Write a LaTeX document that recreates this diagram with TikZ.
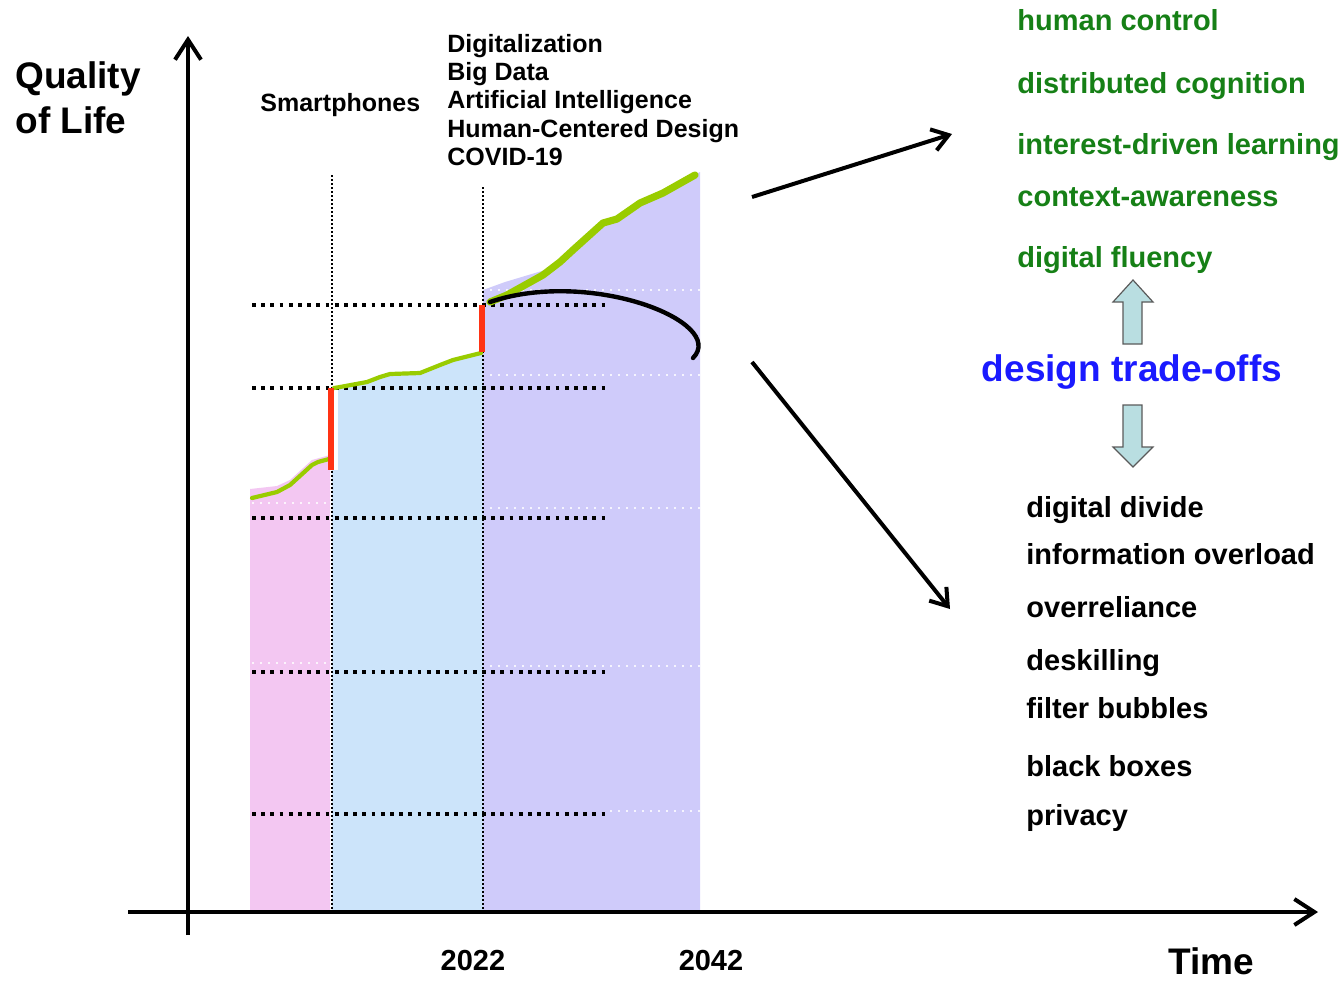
\documentclass[tikz,border=0pt]{standalone}
\usepackage{fontspec}
\setmainfont{Liberation Sans}
\usetikzlibrary{arrows.meta}
\definecolor{pinkfill}{RGB}{243,199,242}
\definecolor{bluefill}{RGB}{204,228,250}
\definecolor{purplefill}{RGB}{207,203,250}
\definecolor{lime}{RGB}{153,204,0}
\definecolor{redline}{RGB}{255,51,20}
\definecolor{dgreen}{RGB}{22,128,22}
\definecolor{dblue}{RGB}{26,26,255}
\definecolor{arrowfill}{RGB}{185,222,225}
\definecolor{arrowdraw}{RGB}{90,90,90}
\begin{document}
\begin{tikzpicture}[x=0.5pt,y=-0.5pt,
  bigtxt/.style={inner sep=0pt, anchor=base west, font=\bfseries\fontsize{18.5}{22}\selectfont},
  midtxt/.style={inner sep=0pt, anchor=base west, font=\bfseries\fontsize{14.5}{17}\selectfont},
  smalltxt/.style={inner sep=0pt, anchor=base west, font=\bfseries\fontsize{12.5}{15}\selectfont},
  goodtxt/.style={midtxt, text=dgreen},
  badtxt/.style={midtxt, text=black},
  hdot/.style={line width=1.9pt, dash pattern=on 1.9pt off 2.7pt},
  vdot/.style={line width=1.3pt, dash pattern=on 1.1pt off 0.9pt},
  wdot/.style={white, opacity=0.8, line width=1pt, dash pattern=on 1pt off 3pt},
  axis/.style={line width=2pt, -{Straight Barb[length=10pt,width=13pt]}},
  diag/.style={line width=2pt, -{Straight Barb[length=8pt,width=11pt]}},
  blockarrow/.style={fill=arrowfill, draw=arrowdraw, line width=0.6pt, line join=miter},
  greenthin/.style={lime, line width=2.1pt, line join=round, line cap=round},
  greenthick/.style={lime, line width=3.6pt, line join=round, line cap=round},
  redbar/.style={redline, line width=2.6pt}
]
\useasboundingbox (0,0) rectangle (1344,981);

% ---- coloured areas ----
\fill[pinkfill] (250,912) -- (250,489) -- (277,486) -- (290,480) -- (312,460) -- (330,455) -- (330,912) -- cycle;
\fill[bluefill] (332,912) -- (332,470) -- (338,470) -- (338,386) -- (367,381) -- (380,376) -- (390,373) -- (420,372) -- (440,364) -- (453,359) -- (483,352) -- (483,912) -- cycle;
\fill[purplefill] (483,912) -- (483,290) -- (505,282) -- (545,270) -- (575,248) -- (605,222) -- (640,202) -- (665,190) -- (700,172) -- (700,912) -- cycle;

% ---- faint white dotted lines ----
\draw[wdot] (252,503) -- (330,503);
\draw[wdot] (252,663) -- (330,663);
\draw[wdot] (490,290) -- (700,290);
\draw[wdot] (490,375) -- (700,375);
\draw[wdot] (490,508) -- (700,508);
\draw[wdot] (490,666) -- (700,666);
\draw[wdot] (610,811) -- (700,811);

% ---- black dotted grid ----
\draw[vdot] (332,175) -- (332,912);
\draw[vdot] (483,187) -- (483,912);
\foreach \yy in {305,388,518,672,814}
  \draw[hdot] (252,\yy) -- (610,\yy);

% ---- quality curve ----
\draw[greenthin] (252,498) -- (277,492) -- (290,485) -- (312,465) -- (318,462) -- (329,459);
\draw[greenthin] (334,388) -- (340,387) -- (367,382) -- (380,377) -- (390,374) -- (420,373) -- (440,365) -- (453,360) -- (481,353);
\draw[greenthick] (490,302) -- (507,295) -- (543,275) -- (560,262) -- (573,250) -- (603,223) -- (617,219) -- (640,203) -- (663,193) -- (695,175);
\draw[redbar] (331,388) -- (331,470);
\draw[redbar] (482,305) -- (482,352);

% ---- black arc ----
\draw[line width=2.2pt, line cap=round] (490,302) .. controls (590,268) and (728,322) .. (693,358);

% ---- axes ----
\coordinate (yb) at (188,935);
\coordinate (yt) at (188,36);
\coordinate (xl) at (128,912);
\coordinate (xr) at (1318,912);
\draw[axis] (yb) -- (yt);
\draw[axis] (xl) -- (xr);

% ---- axis labels ----
\node[bigtxt] (q1) at (15,88) {Quality};
\node[bigtxt] (q2) at (15,133) {of Life};
\node[midtxt, anchor=base] (y2022) at (473,970) {2022};
\node[midtxt, anchor=base] (y2042) at (711,970) {2042};
\node[bigtxt] (time) at (1168,974) {Time};

% ---- event labels ----
\node[smalltxt] (smart) at (260,111) {Smartphones};
\node[smalltxt] (e1) at (447,52) {Digitalization};
\node[smalltxt] (e2) at (447,80) {Big Data};
\node[smalltxt] (e3) at (447,108) {Artificial Intelligence};
\node[smalltxt] (e4) at (447,137) {Human-Centered Design};
\node[smalltxt] (e5) at (447,165) {COVID-19};

% ---- diagonal arrows ----
\coordinate (upS) at (752,197);
\coordinate (upE) at (952,134);
\coordinate (dnS) at (752,362);
\coordinate (dnE) at (950,609);
\draw[diag] (upS) -- (upE);
\draw[diag] (dnS) -- (dnE);

% ---- positive outcomes ----
\node[goodtxt] (g1) at (1017,30) {human control};
\node[goodtxt] (g2) at (1017,93) {distributed cognition};
\node[goodtxt] (g3) at (1017,154) {interest-driven learning};
\node[goodtxt] (g4) at (1017,206) {context-awareness};
\node[goodtxt] (g5) at (1017,267) {digital fluency};

% ---- trade-offs ----
\node[inner sep=0pt, anchor=base, font=\bfseries\fontsize{18.5}{22}\selectfont, text=dblue] (dto) at (1132,381) {design trade-offs};
\draw[blockarrow] (1133,280) -- (1153,302) -- (1142,302) -- (1142,344) -- (1123,344) -- (1123,302) -- (1113,302) -- cycle;
\draw[blockarrow] (1133,467) -- (1153,447) -- (1142,447) -- (1142,405) -- (1123,405) -- (1123,447) -- (1113,447) -- cycle;

% ---- negative outcomes ----
\node[badtxt] (b1) at (1026,517) {digital divide};
\node[badtxt] (b2) at (1026,564) {information overload};
\node[badtxt] (b3) at (1026,617) {overreliance};
\node[badtxt] (b4) at (1026,670) {deskilling};
\node[badtxt] (b5) at (1026,718) {filter bubbles};
\node[badtxt] (b6) at (1026,776) {black boxes};
\node[badtxt] (b7) at (1026,825) {privacy};
\end{tikzpicture}
\end{document}
